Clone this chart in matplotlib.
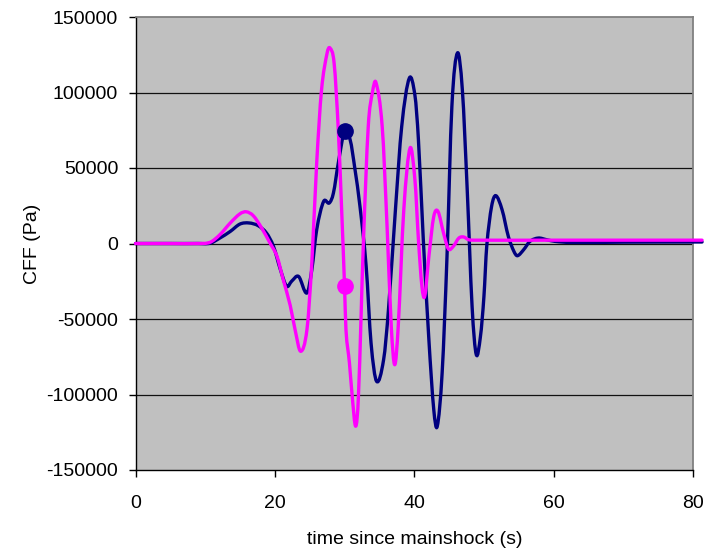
import numpy as np
import matplotlib
matplotlib.use("Agg")
import matplotlib.pyplot as plt
from matplotlib.path import Path
from matplotlib.patches import PathPatch
from matplotlib.ticker import FuncFormatter

# ---- data ----
navy_t = [0, 5, 9, 10.7, 12.1, 13.6, 15.0, 16.3, 17.6, 18.8, 19.8, 20.8, 21.7, 22.4,
          23.4, 24.6, 25.3, 26.0, 27.0, 27.8, 28.4, 29.1, 30.0, 30.8, 31.5, 32.2,
          33.1, 33.8, 34.6, 35.6, 36.3, 37.3, 38.2, 39.3, 40.1, 40.6, 41.3, 42.1,
          42.8, 43.3, 44.0, 44.7, 45.4, 46.2, 46.9, 47.6, 48.3, 48.9, 49.5, 50.0,
          50.4, 51.1, 51.7, 52.6, 53.5, 54.3, 54.8, 55.7, 56.6, 57.8, 59.0, 60.2,
          62.4, 70, 80, 81.3]
navy_v = [0, 0, 0, 200, 3600, 8000, 12900, 13600, 11800, 6900, -1900, -17400, -28400, -25000,
          -21800, -32800, -17400, 9100, 27900, 26800, 33400, 53300, 74200, 68700, 48900, 25000,
          -15200, -65900, -91300, -77000, -43800, 22400, 77500, 109600, 98000, 68700, 2500, -63700,
          -110000, -121100, -85800, -8500, 90800, 126200, 101900, 35600, -41700, -73600, -61500, -35000,
          -1900, 24600, 31700, 22400, 4700, -5200, -8100, -4100, 1400, 3600, 2500, 1400,
          700, 900, 1000, 1000]

mag_t = [0, 5, 9, 10.7, 12.1, 13.6, 15.0, 15.9, 16.9, 18.1, 19.3, 20.3, 21.2, 22.2,
         22.9, 23.7, 24.6, 25.3, 26.0, 26.7, 27.5, 27.9, 28.5, 29.1, 29.6, 30.0,
         30.2, 30.7, 31.1, 31.6, 32.0, 32.7, 33.4, 34.0, 34.5, 35.4, 36.1, 36.7,
         37.2, 37.7, 38.5, 39.4, 40.1, 40.6, 41.1, 41.5, 42.1, 42.8, 43.4, 44.2,
         44.9, 45.6, 46.4, 47.1, 47.8, 49.0, 60, 80, 81.3]
mag_v = [0, 0, 0, 800, 5800, 13600, 19700, 21000, 18400, 10300, 300, -8500, -24000, -41000,
         -57100, -71400, -57100, -12900, 53300, 101900, 126200, 129500, 119500, 75400, 20200, -28400,
         -57100, -79100, -101300, -121000, -100000, 300, 77500, 100000, 106700, 77500, 11300, -54900,
         -80300, -54900, 22400, 63200, 42000, 2500, -28400, -35000, -8500, 17900, 21300, 7000,
         -3600, -1900, 3600, 4300, 2500, 2200, 2200, 2200, 2200]

marker_time = 30.0

x_ticks = [0, 20, 40, 60, 80]
y_ticks = [-150000, -100000, -50000, 0, 50000, 100000, 150000]
x_label = "time since mainshock (s)"
y_label = "CFF (Pa)"

NAVY = "#000080"
MAGENTA = "#FF00FF"

plt.rcParams['font.family'] = ['Liberation Sans', 'DejaVu Sans']
plt.rcParams['font.size'] = 14


def smooth_path(t, v):
    t = np.asarray(t, float)
    v = np.asarray(v, float)
    n = len(t)
    m = np.empty(n)
    m[1:-1] = (v[2:] - v[:-2]) / (t[2:] - t[:-2])
    m[0] = (v[1] - v[0]) / (t[1] - t[0])
    m[-1] = (v[-1] - v[-2]) / (t[-1] - t[-2])
    verts = [(t[0], v[0])]
    codes = [Path.MOVETO]
    for i in range(n - 1):
        dt = t[i + 1] - t[i]
        verts += [(t[i] + dt / 3, v[i] + m[i] * dt / 3),
                  (t[i + 1] - dt / 3, v[i + 1] - m[i + 1] * dt / 3),
                  (t[i + 1], v[i + 1])]
        codes += [Path.CURVE4] * 3
    return Path(verts, codes)


fig = plt.figure(figsize=(7.08, 5.54), dpi=100)
L, R, T, B = 135.5, 693, 17, 470
ax = fig.add_axes([L / 708, 1 - B / 554, (R - L) / 708, (B - T) / 554])
ax.set_facecolor("#C0C0C0")

ax.set_xlim(0, 80)
ax.set_ylim(-150000, 150000)
ax.set_xticks(x_ticks)
ax.set_yticks(y_ticks)
ax.yaxis.set_major_formatter(FuncFormatter(lambda v, p: f"{int(round(v))}"))
ax.xaxis.set_major_formatter(FuncFormatter(lambda v, p: f"{int(round(v))}"))

for yv in y_ticks[1:-1]:
    ax.axhline(yv, color="#111111", lw=0.9, zorder=1)

for t, v, c, z in [(navy_t, navy_v, NAVY, 3), (mag_t, mag_v, MAGENTA, 4)]:
    patch = PathPatch(smooth_path(t, v), facecolor="none", edgecolor=c, lw=2.4,
                      zorder=z, clip_on=False, capstyle="round", joinstyle="round")
    ax.add_patch(patch)

i_n = navy_t.index(marker_time)
i_m = mag_t.index(marker_time)
ax.plot([navy_t[i_n]], [navy_v[i_n]], "o", color=NAVY, ms=11, zorder=6)
ax.plot([mag_t[i_m]], [mag_v[i_m]], "o", color=MAGENTA, ms=11, zorder=5)

for s in ["left", "bottom"]:
    ax.spines[s].set_color("black")
    ax.spines[s].set_linewidth(1.0)
for s in ["top", "right"]:
    ax.spines[s].set_color("#808080")
    ax.spines[s].set_linewidth(1.3)

ax.tick_params(axis="both", direction="out", length=5, width=1, color="black",
               labelsize=14)
ax.tick_params(axis="y", pad=7.5)
ax.tick_params(axis="x", pad=13)

ax.set_xlabel(x_label, fontsize=14)
ax.set_ylabel(y_label, fontsize=14)
ax.xaxis.set_label_coords(0.501, -0.135)
ax.yaxis.set_label_coords(-0.17, 0.5)

fig.savefig("out.png", dpi=100, facecolor="white")
